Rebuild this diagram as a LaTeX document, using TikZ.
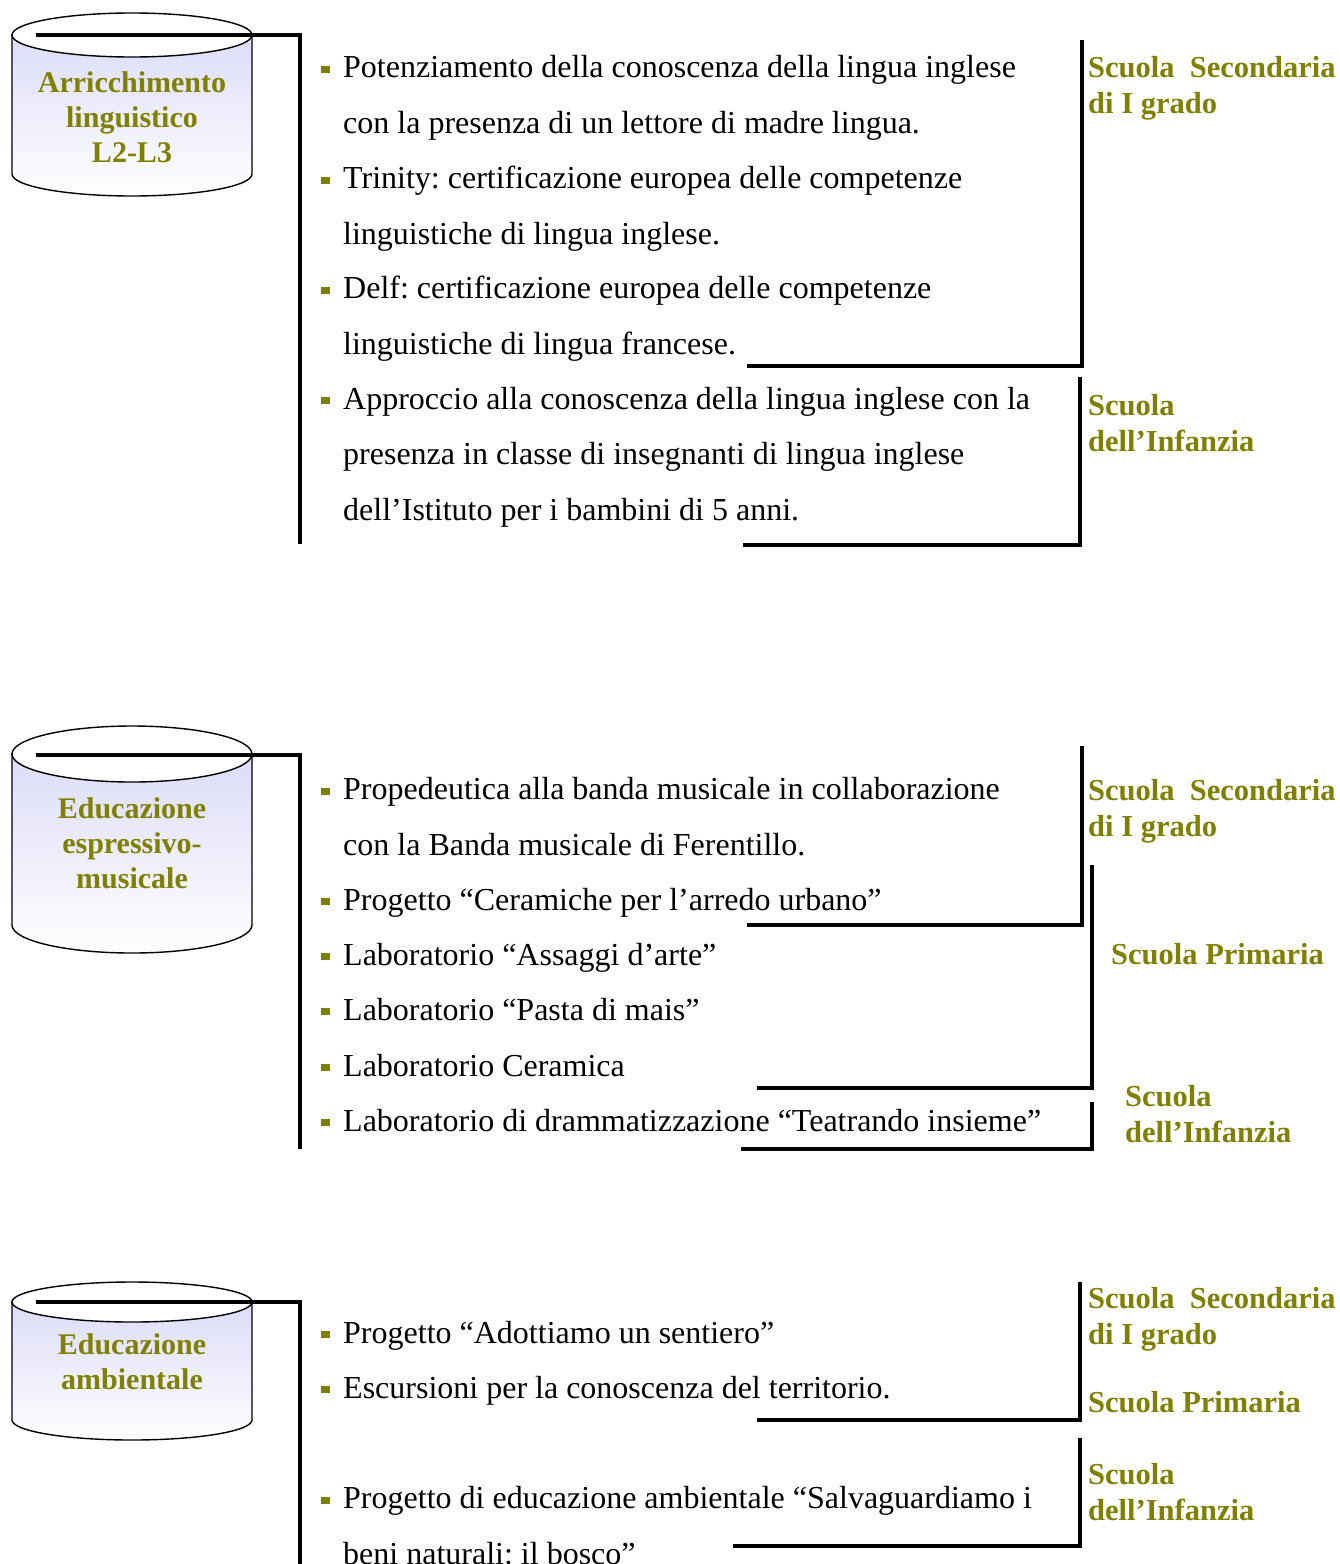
\documentclass[tikz,border=0pt]{standalone}
\usepackage{fontspec}
\setmainfont{Liberation Serif}
\usetikzlibrary{positioning}
\definecolor{oliva}{HTML}{808000}
\definecolor{lilla}{HTML}{DCDCF8}
\newcommand{\qd}{\llap{\textcolor{oliva}{\rule[5pt]{9pt}{7pt}}\hspace{13pt}}}
\frenchspacing

\begin{document}
\begin{tikzpicture}[x=1pt, y=-1pt,
			bar/.style={line width=3.5pt},
			cyl/.style={draw, line width=1.4pt},
			cyltext/.style={align=center, text=oliva, font=\fontsize{30}{35}\selectfont\bfseries},
			item/.style={anchor=base west, align=left, inner sep=0pt, font=\fontsize{32}{55.3}\selectfont},
			grado/.style={anchor=base west, align=left, inner sep=0pt, text=oliva, font=\fontsize{30.5}{36}\selectfont\bfseries}]
			\useasboundingbox[fill=white] (0,0) rectangle (1340,1564);
			% cylinders
			\foreach \ct/\cb/\ry in {35/174/22, 754/925/28, 1302/1420/20}{
				\shade[cyl, top color=lilla, bottom color=white] (12,\ct) -- (12,\cb)
					arc[start angle=180, end angle=0, x radius=120, y radius=\ry] -- (252,\ct) -- cycle;
				\draw[cyl, fill=white] (132,\ct) ellipse[x radius=120, y radius=\ry];
			}
			\node [cyltext] (arr) at (132,117) {Arricchimento\\linguistico\\L2-L3};
			\node [cyltext] (mus) at (132,843) {Educazione\\espressivo-\\musicale};
			\node [cyltext] (amb) at (132,1362) {Educazione\\ambientale};

			% connectors from the cylinders
			\coordinate (arrin) at (36,35);
			\coordinate (musin) at (36,755);
			\coordinate (ambin) at (36,1302);
			\draw[bar] (arrin) -| (300,544);
			\draw[bar] (musin) -| (300,1149);
			\draw[bar] (ambin) -| (300,1570);

			% first block (base = last line)
			\node [item] (p1) at (343,133) {\qd Potenziamento della conoscenza della lingua inglese\\con la presenza di un lettore di madre lingua.};
			\node [item] (p2) at (343,244) {\qd Trinity: certificazione europea delle competenze\\linguistiche di lingua inglese.};
			\node [item] (p3) at (343,354) {\qd Delf: certificazione europea delle competenze\\linguistiche di lingua francese.};
			\node [item] (p4) at (343,520) {\qd Approccio alla conoscenza della lingua inglese con la\\presenza in classe di insegnanti di lingua inglese\\dell'Istituto per i bambini di 5 anni.};
			\draw[bar] (1082,40) |- (747,366);
			\draw[bar] (1080,377) |- (743,545);
			\node [grado] (sec1) at (1088,113) {Scuola\ \ Secondaria\\di I grado};
			\node [grado] (inf1) at (1088,451) {Scuola\\dell'Infanzia};

			% second block
			\node [item] (m1) at (343,855) {\qd Propedeutica alla banda musicale in collaborazione\\con la Banda musicale di Ferentillo.};
			\node [item] (m2) at (343,910) {\qd Progetto ``Ceramiche per l'arredo urbano''};
			\node [item] (m3) at (343,965) {\qd Laboratorio ``Assaggi d'arte''};
			\node [item] (m4) at (343,1020) {\qd Laboratorio ``Pasta di mais''};
			\node [item] (m5) at (343,1076) {\qd Laboratorio Ceramica};
			\node [item] (m6) at (343,1131) {\qd Laboratorio di drammatizzazione ``Teatrando insieme''};
			\draw[bar] (1082,746) |- (747,925);
			\draw[bar] (1092,865) |- (757,1088);
			\draw[bar] (1092,1102) |- (741,1149);
			\node [grado] (sec2) at (1088,836) {Scuola\ \ Secondaria\\di I grado};
			\node [grado] (pri2) at (1111,964) {Scuola Primaria};
			\node [grado] (inf2) at (1125,1142) {Scuola\\dell'Infanzia};

			% third block
			\node [item] (a1) at (343,1343) {\qd Progetto ``Adottiamo un sentiero''};
			\node [item] (a2) at (343,1398) {\qd Escursioni per la conoscenza del territorio.};
			\node [item] (a3) at (343,1564) {\qd Progetto di educazione ambientale ``Salvaguardiamo i\\beni naturali: il bosco''};
			\draw[bar] (1080,1282) |- (757,1420);
			\draw[bar] (1080,1438) |- (733,1546);
			\node [grado] (sec3) at (1088,1344) {Scuola\ \ Secondaria\\di I grado};
			\node [grado] (pri3) at (1088,1412) {Scuola Primaria};
			\node [grado] (inf3) at (1088,1520) {Scuola\\dell'Infanzia};
		\end{tikzpicture}
\end{document}
